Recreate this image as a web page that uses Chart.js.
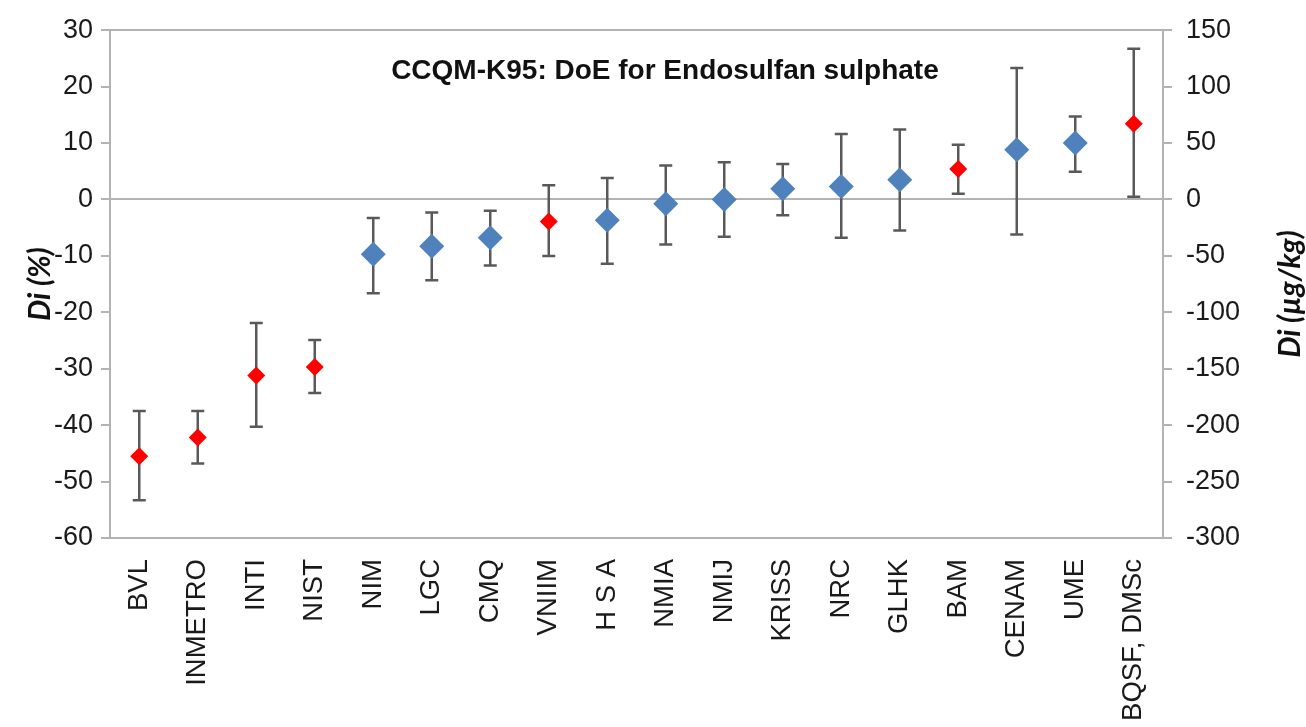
<!DOCTYPE html>
<html>
<head>
<meta charset="utf-8">
<script src="https://cdn.jsdelivr.net/npm/chart.js@4.4.1/dist/chart.umd.min.js"></script>
<style>
  body { margin: 0; background: #fff; }
  #doeChart { display: block; }
</style>
</head>
<body>
<canvas id="doeChart" width="1306" height="727"></canvas>
<script>
// participants, in plotted order
var labs = ['BVL', 'INMETRO', 'INTI', 'NIST', 'NIM', 'LGC', 'CMQ', 'VNIIM', 'H S A', 'NMIA',
    'NMIJ', 'KRISS', 'NRC', 'GLHK', 'BAM', 'CENAM', 'UME', 'BQSF, DMSc'];
// Di (%) and the expanded uncertainty interval
var di = [-45.5, -42.2, -31.2, -29.7, -9.7, -8.3, -6.8, -3.9, -3.7, -0.75,
    0, 1.9, 2.3, 3.5, 5.4, 8.8, 10.0, 13.4];
var diHigh = [-37.5, -37.5, -21.9, -24.9, -3.3, -2.3, -2.0, 2.5, 3.8, 6.0,
    6.6, 6.3, 11.6, 12.4, 9.7, 23.3, 14.7, 26.7];
var diLow = [-53.3, -46.8, -40.3, -34.3, -16.6, -14.3, -11.7, -10.0, -11.4, -8.0,
    -6.6, -2.8, -6.8, -5.5, 1.0, -6.2, 4.9, 0.5];
// true = red marker
var flagged = [true, true, true, true, false, false, false, true, false, false,
    false, false, false, false, true, false, false, true];

var BLUE = '#4f81bd';
var RED = '#ff0000';
var AXIS = '#b3b3b3';
var TXT = '#1a1a1a';
var SANS = '"Liberation Sans", Arial, sans-serif';

var errorBars = {
    id: 'errorBars',
    beforeDatasetsDraw: function(chart) {
        var ctx = chart.ctx;
        var xs = chart.scales.x, ys = chart.scales.y;
        ctx.save();
        ctx.strokeStyle = '#595959';
        ctx.lineWidth = 2.5;
        for (var i = 0; i < di.length; i++) {
            var x = xs.getPixelForValue(i);
            var yh = ys.getPixelForValue(diHigh[i]);
            var yl = ys.getPixelForValue(diLow[i]);
            ctx.beginPath();
            ctx.moveTo(x, yh); ctx.lineTo(x, yl);
            ctx.moveTo(x - 6.5, yh); ctx.lineTo(x + 6.5, yh);
            ctx.moveTo(x - 6.5, yl); ctx.lineTo(x + 6.5, yl);
            ctx.stroke();
        }
        ctx.restore();
    }
};

var extraText = {
    id: 'extraText',
    afterDraw: function(chart) {
        var ctx = chart.ctx, a = chart.chartArea;
        ctx.save();
        ctx.fillStyle = '#111';
        ctx.textAlign = 'center';
        ctx.textBaseline = 'middle';
        ctx.font = 'bold 28px ' + SANS;
        ctx.fillText('CCQM-K95: DoE for Endosulfan sulphate', a.left + a.width * 0.527, a.top + 41);
        // right axis title reads bottom-to-top
        ctx.translate(1290, (a.top + a.bottom) / 2 + 10);
        ctx.rotate(-Math.PI / 2);
        ctx.font = 'italic bold 30px Lato, sans-serif';
        ctx.fillText('Di (µg/kg)', 0, 0);
        ctx.restore();
    }
};

new Chart(document.getElementById('doeChart'), {
    type: 'line',
    data: {
        labels: labs,
        datasets: [{
            data: di,
            showLine: false,
            pointStyle: 'rectRot',
            pointRadius: flagged.map(function(f) { return f ? 9 : 12.5; }),
            pointBackgroundColor: flagged.map(function(f) { return f ? RED : BLUE; }),
            pointBorderColor: flagged.map(function(f) { return f ? RED : BLUE; }),
            pointBorderWidth: 0,
            pointHoverRadius: 0
        }]
    },
    options: {
        responsive: false,
        animation: false,
        events: [],
        layout: { padding: { top: 27, left: 0, right: 0, bottom: 0 } },
        plugins: { legend: { display: false }, tooltip: { enabled: false } },
        scales: {
            x: {
                type: 'category',
                offset: true,
                grid: { display: false, drawTicks: false },
                border: { display: true, color: AXIS, width: 2 },
                ticks: {
                    autoSkip: false, minRotation: 90, maxRotation: 90, padding: 21,
                    color: TXT, font: { family: SANS, size: 27.5 }
                },
                afterFit: function(s) { s.height = 189; }
            },
            y: {
                position: 'left',
                min: -60, max: 30,
                ticks: {
                    stepSize: 10, padding: 8, color: TXT,
                    font: { family: SANS, size: 27 }
                },
                grid: {
                    color: function(c) { return (c.tick && (c.tick.value === 0 || c.tick.value === 30)) ? AXIS : 'rgba(0,0,0,0)'; },
                    tickColor: AXIS, tickLength: 9, lineWidth: 2
                },
                border: { display: true, color: AXIS, width: 2 },
                title: {
                    display: true, text: 'Di (%)', color: '#111', padding: { top: 22, bottom: 0 },
                    font: { family: 'Lato, sans-serif', size: 30, weight: 'bold', style: 'italic' }
                },
                afterFit: function(s) { s.width = 110; }
            },
            y2: {
                position: 'right',
                min: -300, max: 150,
                ticks: {
                    stepSize: 50, padding: 14, color: TXT,
                    font: { family: SANS, size: 27 }
                },
                grid: { drawOnChartArea: false, tickColor: AXIS, tickLength: 9, lineWidth: 2 },
                border: { display: true, color: AXIS, width: 2 },
                afterFit: function(s) { s.width = 143; }
            }
        }
    },
    plugins: [errorBars, extraText]
});
</script>
</body>
</html>
